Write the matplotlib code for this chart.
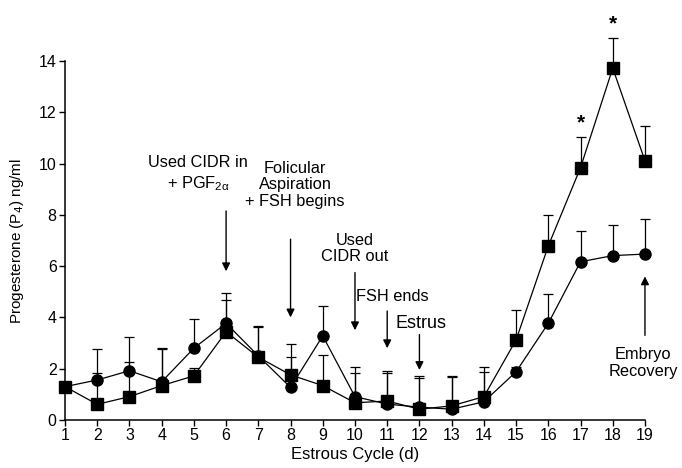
import matplotlib
matplotlib.use("Agg")
import matplotlib.pyplot as plt
import numpy as np

plt.rcParams['font.family'] = ['Liberation Sans', 'DejaVu Sans']

days = list(range(1, 20))
square_mean = [1.30, 0.61, 0.91, 1.34, 1.72, 3.44, 2.45, 1.76, 1.34, 0.67,
               0.74, 0.42, 0.55, 0.91, 3.12, 6.79, 9.84, 13.72, 10.11]
square_sem = [0.0, 1.24, 1.36, 1.41, 0.30, 1.24, 1.19, 0.71, 1.20, 1.18,
              1.08, 1.23, 1.13, 0.97, 1.17, 1.21, 1.21, 1.19, 1.36]
circle_mean = [1.30, 1.56, 1.92, 1.49, 2.80, 3.77, 2.50, 1.27, 3.28, 0.91,
               0.62, 0.50, 0.42, 0.71, 1.88, 3.77, 6.17, 6.41, 6.47]
circle_sem = [0.0, 1.20, 1.33, 1.33, 1.14, 1.17, 1.18, 1.68, 1.18, 1.17,
              1.30, 1.22, 1.30, 1.37, 0.20, 1.14, 1.21, 1.19, 1.36]
yticks = [0, 2, 4, 6, 8, 10, 12, 14]
asterisk_days = [17, 18]

fig = plt.figure(figsize=(6.82, 4.68), dpi=100)
ax = fig.add_axes([0.0953, 0.1026, 0.8504, 0.7671])

zeros = np.zeros(len(days))
for mean, sem in [(circle_mean, circle_sem), (square_mean, square_sem)]:
    eb = ax.errorbar(days, mean, yerr=[zeros, sem], fmt='none', ecolor='black',
                     elinewidth=0.9, capsize=3.6, capthick=0.9, zorder=2)
    for art in list(eb.lines[1]) + list(eb.lines[2]):
        art.set_clip_on(False)
ax.plot(days, circle_mean, color='black', lw=0.9, marker='o', markersize=8, zorder=3,
        clip_on=False)
ax.plot(days, square_mean, color='black', lw=0.9, marker='s', markersize=8.7, zorder=4,
        clip_on=False)

for d in asterisk_days:
    i = days.index(d)
    ax.text(d, square_mean[i] + square_sem[i] + 0.55, '*', ha='center', va='center',
            fontsize=15, fontweight='bold', clip_on=False)

ax.set_xlim(1, 19)
ax.set_ylim(0, 14)
ax.set_xticks(days)
ax.set_yticks(yticks)
ax.tick_params(direction='out', length=4, width=1, labelsize=11.5, pad=2)
for s in ['top', 'right']:
    ax.spines[s].set_visible(False)
for s in ['left', 'bottom']:
    ax.spines[s].set_linewidth(1.1)

ax.set_xlabel('Estrous Cycle (d)', fontsize=12, labelpad=3)
ax.set_ylabel('Progesterone (P$_4$) ng/ml', fontsize=11, labelpad=9)

fs = 11.8
arrow_kw = dict(arrowstyle='-|>', color='black', lw=1.0, mutation_scale=12, shrinkA=0, shrinkB=0)
ax.text(5.13, 10.06, 'Used CIDR in', ha='center', va='center', fontsize=fs)
ax.text(5.13, 9.2, '+ PGF$_{\\mathregular{2α}}$', ha='center', va='center', fontsize=fs)
ax.annotate('', xy=(6, 5.8), xytext=(6, 8.15), arrowprops=arrow_kw)

ax.text(8.14, 9.17, 'Folicular\nAspiration\n+ FSH begins', ha='center', va='center',
        fontsize=fs, linespacing=1.1)
ax.annotate('', xy=(8, 4.0), xytext=(8, 7.05), arrowprops=arrow_kw)

ax.text(10.0, 6.68, 'Used\nCIDR out', ha='center', va='center', fontsize=fs, linespacing=1.1)
ax.annotate('', xy=(10, 3.5), xytext=(10, 5.75), arrowprops=arrow_kw)

ax.text(11.15, 4.81, 'FSH ends', ha='center', va='center', fontsize=fs)
ax.annotate('', xy=(11, 2.8), xytext=(11, 4.25), arrowprops=arrow_kw)

ax.text(12.05, 3.77, 'Estrus', ha='center', va='center', fontsize=13)
ax.annotate('', xy=(12, 1.95), xytext=(12, 3.33), arrowprops=arrow_kw)

ax.text(18.94, 2.22, 'Embryo\nRecovery', ha='center', va='center', fontsize=fs, linespacing=1.1)
ax.annotate('', xy=(19, 5.6), xytext=(19, 3.3), arrowprops=arrow_kw)

fig.savefig('out.png', dpi=100)
